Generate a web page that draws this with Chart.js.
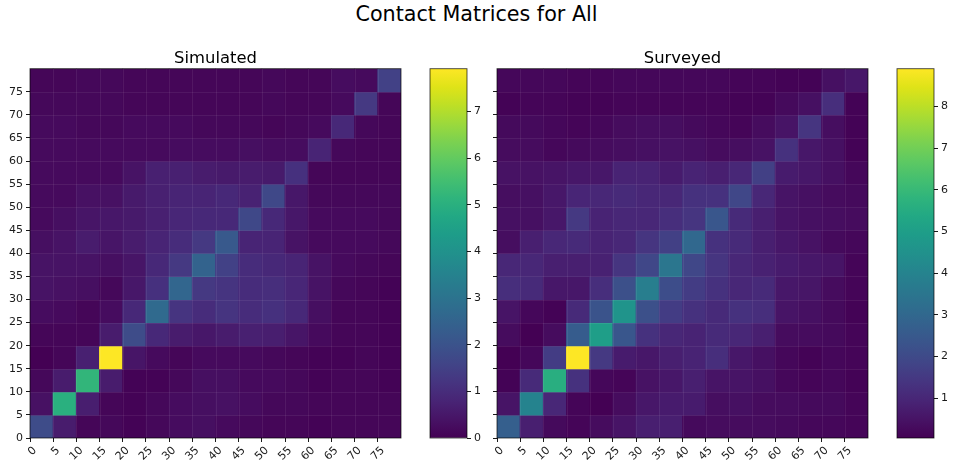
<!DOCTYPE html>
<html>
<head>
<meta charset="utf-8">
<title>Contact Matrices for All</title>
<script src="https://cdn.jsdelivr.net/npm/chart.js@4.4.1/dist/chart.umd.min.js"></script>
<style>
  body { margin: 0; background: #fff; width: 953px; height: 466px; position: relative; overflow: hidden; font-family: "DejaVu Sans", sans-serif; }
  #suptitle { position: absolute; left: 0; top: 2px; width: 953px; text-align: center; font-size: 20.7px; line-height: 24px; color: #000; }
  .panel { position: absolute; top: 0; height: 466px; }
</style>
</head>
<body>
<div id="suptitle">Contact Matrices for All</div>
<div class="panel" style="left:0;width:420px"><canvas id="simulatedMatrix"></canvas></div>
<div class="panel" style="left:420px;width:70px"><canvas id="simulatedBar"></canvas></div>
<div class="panel" style="left:470px;width:420px"><canvas id="surveyedMatrix"></canvas></div>
<div class="panel" style="left:887px;width:66px"><canvas id="surveyedBar"></canvas></div>
<script>
// age band lower bounds, 5 year bands
var ageBands = [0, 5, 10, 15, 20, 25, 30, 35, 40, 45, 50, 55, 60, 65, 70, 75];
var bandWidth = 5;
var tickLabels = ageBands.map(String);

// rows = age band of participant (bottom to top), columns = age band of contact
var simulated = [
  [1.8, 0.6, 0.1, 0.15, 0.05, 0.15, 0.25, 0.3, 0.2, 0.15, 0.1, 0.1, 0.05, 0.1, 0.1, 0.1],
  [0.35, 5.0, 0.65, 0.1, 0.05, 0.15, 0.25, 0.3, 0.35, 0.25, 0.15, 0.15, 0.1, 0.1, 0.1, 0.1],
  [0.15, 0.6, 5.2, 0.6, 0.05, 0.05, 0.15, 0.3, 0.3, 0.2, 0.2, 0.15, 0.05, 0.1, 0.1, 0.05],
  [0, 0.1, 0.7, 7.92, 0.45, 0.2, 0.1, 0.2, 0.2, 0.2, 0.15, 0.1, 0.05, 0.05, 0.1, 0.05],
  [0.1, 0.1, 0.1, 0.6, 1.8, 0.9, 0.6, 0.5, 0.6, 0.7, 0.65, 0.45, 0.2, 0.1, 0.1, 0.05],
  [0.25, 0.2, 0.1, 0.25, 0.9, 2.7, 1.2, 1.0, 1.2, 1.0, 1.1, 0.9, 0.3, 0.1, 0.1, 0.05],
  [0.4, 0.35, 0.3, 0.15, 0.5, 1.1, 2.6, 1.3, 1.2, 1.0, 1.05, 0.85, 0.4, 0.15, 0.1, 0.05],
  [0.4, 0.4, 0.4, 0.3, 0.45, 0.9, 1.3, 2.5, 1.5, 1.0, 0.9, 0.8, 0.4, 0.2, 0.15, 0.1],
  [0.3, 0.4, 0.6, 0.45, 0.6, 0.8, 1.0, 1.3, 2.2, 0.8, 0.8, 0.4, 0.2, 0.2, 0.2, 0.15],
  [0.2, 0.3, 0.45, 0.5, 0.55, 0.7, 0.85, 0.9, 0.9, 1.7, 0.9, 0.5, 0.2, 0.2, 0.2, 0.15],
  [0.2, 0.2, 0.35, 0.35, 0.55, 0.7, 0.8, 0.8, 0.9, 0.75, 1.7, 0.5, 0.15, 0.15, 0.15, 0.15],
  [0.2, 0.2, 0.2, 0.2, 0.4, 0.7, 0.7, 0.6, 0.55, 0.6, 0.55, 1.1, 0.1, 0.1, 0.1, 0.1],
  [0.2, 0.2, 0.2, 0.2, 0.2, 0.2, 0.25, 0.25, 0.25, 0.3, 0.25, 0.25, 0.8, 0.15, 0.1, 0.1],
  [0.2, 0.2, 0.15, 0.15, 0.2, 0.2, 0.2, 0.15, 0.15, 0.15, 0.1, 0.15, 0.2, 0.9, 0.15, 0.1],
  [0.15, 0.15, 0.15, 0.15, 0.1, 0.1, 0.1, 0.1, 0.1, 0.1, 0.15, 0.1, 0.1, 0.2, 1.3, 0.1],
  [0.1, 0.1, 0.15, 0.15, 0.1, 0.1, 0.1, 0.1, 0.1, 0.1, 0.15, 0.1, 0.1, 0.25, 0.2, 1.5]
];

var surveyed = [
  [2.7, 0.8, 0.25, 0.15, 0.3, 0.5, 0.8, 0.8, 0.25, 0.3, 0.3, 0.3, 0.25, 0.2, 0.2, 0.15],
  [0.5, 4.0, 1.0, 0.15, 0.04, 0.3, 0.6, 0.7, 0.7, 0.35, 0.4, 0.3, 0.3, 0.25, 0.25, 0.15],
  [0.1, 1.1, 5.6, 1.3, 0.2, 0.15, 0.45, 0.6, 0.8, 0.5, 0.5, 0.4, 0.2, 0.15, 0.2, 0.1],
  [0.05, 0.2, 1.6, 8.91, 1.5, 0.7, 0.6, 0.8, 0.9, 1.2, 0.6, 0.4, 0.2, 0.1, 0.2, 0.15],
  [0.3, 0.05, 0.3, 2.6, 5.0, 2.4, 1.3, 1.0, 0.9, 1.1, 1.0, 0.8, 0.3, 0.3, 0.25, 0.15],
  [0.5, 0.2, 0.1, 1.1, 2.3, 4.6, 2.2, 1.6, 1.3, 1.1, 1.3, 1.2, 0.5, 0.4, 0.25, 0.1],
  [1.2, 1.1, 0.6, 0.6, 1.2, 2.2, 3.8, 2.1, 1.6, 1.3, 1.0, 1.1, 0.6, 0.55, 0.3, 0.15],
  [1.0, 1.0, 0.8, 0.8, 0.85, 1.4, 1.9, 3.5, 1.9, 1.4, 1.0, 0.85, 0.7, 0.6, 0.5, 0.15],
  [0.35, 0.8, 1.0, 1.1, 0.9, 1.0, 1.4, 1.7, 3.0, 1.3, 1.1, 0.8, 0.6, 0.45, 0.25, 0.2],
  [0.4, 0.4, 0.6, 1.5, 0.9, 1.0, 1.0, 1.2, 1.4, 2.4, 1.1, 0.8, 0.5, 0.4, 0.35, 0.3],
  [0.35, 0.4, 0.6, 0.95, 1.0, 1.1, 1.0, 1.0, 1.3, 1.3, 1.9, 1.0, 0.5, 0.4, 0.3, 0.25],
  [0.45, 0.45, 0.5, 0.6, 0.6, 0.9, 0.9, 0.7, 0.9, 0.8, 1.0, 1.7, 0.7, 0.6, 0.4, 0.2],
  [0.3, 0.3, 0.2, 0.25, 0.3, 0.35, 0.4, 0.45, 0.4, 0.3, 0.35, 0.45, 1.3, 0.6, 0.4, 0.1],
  [0.25, 0.25, 0.2, 0.15, 0.2, 0.3, 0.35, 0.35, 0.25, 0.2, 0.15, 0.3, 0.5, 1.4, 0.35, 0.1],
  [0.1, 0.15, 0.15, 0.1, 0.1, 0.15, 0.15, 0.15, 0.15, 0.15, 0.1, 0.1, 0.25, 0.4, 1.2, 0.1],
  [0.2, 0.2, 0.2, 0.15, 0.15, 0.2, 0.2, 0.2, 0.2, 0.2, 0.15, 0.15, 0.1, 0.1, 0.4, 0.6]
];

var simulatedBarTicks = [0, 1, 2, 3, 4, 5, 6, 7];
var surveyedBarTicks = [1, 2, 3, 4, 5, 6, 7, 8];

var viridisStops = ['#440154', '#471365', '#482475', '#463480', '#414487', '#3b528b', '#355f8d',
  '#2f6c8e', '#2a788e', '#25848e', '#21918c', '#1e9c89', '#22a884', '#2fb47c', '#44bf70',
  '#5ec962', '#7ad151', '#9bd93c', '#bddf26', '#dfe318', '#fde725'];

var FONT = '"DejaVu Sans", sans-serif';
var INK = '#1a1a1a';

function hexRgb(h) {
  return [parseInt(h.substr(1, 2), 16), parseInt(h.substr(3, 2), 16), parseInt(h.substr(5, 2), 16)];
}

function viridis(t) {
  t = Math.max(0, Math.min(1, t));
  var p = t * (viridisStops.length - 1);
  var i = Math.min(Math.floor(p), viridisStops.length - 2);
  var f = p - i;
  var a = hexRgb(viridisStops[i]), b = hexRgb(viridisStops[i + 1]);
  var c = a.map(function (v, k) { return Math.round(v + (b[k] - v) * f); });
  return 'rgb(' + c.join(',') + ')';
}

function range(matrix) {
  var flat = [].concat.apply([], matrix);
  return [Math.min.apply(null, flat), Math.max.apply(null, flat)];
}

// faint cell edges along every band boundary
var cellEdgesPlugin = {
  id: 'cellEdges',
  afterDatasetsDraw: function (chart) {
    var a = chart.chartArea, ctx = chart.ctx;
    var xs = chart.scales.x, ys = chart.scales.y;
    ctx.save();
    ctx.strokeStyle = 'rgba(255,255,255,0.07)';
    ctx.lineWidth = 1;
    ctx.beginPath();
    ageBands.slice(1).forEach(function (b) {
      var px = Math.round(xs.getPixelForValue(b)) + 0.5;
      var py = Math.round(ys.getPixelForValue(b)) + 0.5;
      ctx.moveTo(px, a.top); ctx.lineTo(px, a.bottom);
      ctx.moveTo(a.left, py); ctx.lineTo(a.right, py);
    });
    ctx.stroke();
    ctx.restore();
  }
};

// outline around the plotting area, like axes spines
var framePlugin = {
  id: 'frame',
  afterDraw: function (chart) {
    var a = chart.chartArea, ctx = chart.ctx;
    ctx.save();
    ctx.strokeStyle = 'rgba(0,0,0,0.75)';
    ctx.lineWidth = 0.9;
    ctx.strokeRect(a.left, a.top, a.right - a.left, a.bottom - a.top);
    ctx.restore();
  }
};

function fixedTicks(values) {
  return function (scale) {
    scale.ticks = values.map(function (v) { return { value: v }; });
  };
}

function heatmap(canvasId, title, matrix, showYLabels, yWidth, rightPad) {
  var lims = range(matrix);
  var cells = [];
  matrix.forEach(function (row, r) {
    row.forEach(function (v, c) {
      cells.push({ x: ageBands[c] + bandWidth / 2, y: [ageBands[r], ageBands[r] + bandWidth], v: v });
    });
  });

  return new Chart(document.getElementById(canvasId), {
    type: 'bar',
    data: {
      datasets: [{
        data: cells,
        backgroundColor: function (ctx) {
          var raw = ctx.raw;
          if (!raw) return '#000';
          return viridis((raw.v - lims[0]) / (lims[1] - lims[0]));
        },
        borderWidth: 0,
        inflateAmount: 0.5,
        barPercentage: 1,
        categoryPercentage: 1
      }]
    },
    options: {
      responsive: true,
      maintainAspectRatio: false,
      animation: false,
      layout: { padding: { left: 0, right: rightPad, top: 0, bottom: 0 } },
      plugins: {
        legend: { display: false },
        tooltip: { enabled: false },
        title: {
          display: true,
          text: title,
          fullSize: false,
          color: '#000',
          font: { family: FONT, size: 16.4, weight: 'normal' },
          padding: { top: 49, bottom: 0 }
        }
      },
      scales: {
        x: {
          type: 'linear',
          min: 0,
          max: 80,
          offset: false,
          afterBuildTicks: fixedTicks(ageBands),
          afterFit: function (s) { s.height = 28; },
          grid: { drawOnChartArea: false, drawTicks: true, tickLength: 4, tickColor: INK, offset: false },
          border: { display: false },
          ticks: {
            autoSkip: false,
            minRotation: 45,
            maxRotation: 45,
            labelOffset: 5,
            padding: 2,
            color: INK,
            font: { family: FONT, size: 11 },
            callback: function (v, i) { return tickLabels[i]; }
          }
        },
        y: {
          type: 'linear',
          min: 0,
          max: 80,
          afterBuildTicks: fixedTicks(ageBands),
          afterFit: function (s) { s.width = yWidth; },
          grid: { drawOnChartArea: false, drawTicks: true, tickLength: 4, tickColor: INK },
          border: { display: false },
          ticks: {
            display: showYLabels,
            padding: 3,
            color: INK,
            font: { family: FONT, size: 11 },
            callback: function (v, i) { return tickLabels[i]; }
          }
        }
      }
    },
    plugins: [cellEdgesPlugin, framePlugin]
  });
}

function colorbar(canvasId, matrix, tickValues, axisWidth) {
  var lims = range(matrix);
  return new Chart(document.getElementById(canvasId), {
    type: 'bar',
    data: {
      labels: [''],
      datasets: [{
        data: [[lims[0], lims[1]]],
        backgroundColor: function (ctx) {
          var area = ctx.chart.chartArea;
          if (!area) return '#440154';
          var g = ctx.chart.ctx.createLinearGradient(0, area.bottom, 0, area.top);
          viridisStops.forEach(function (c, i) { g.addColorStop(i / (viridisStops.length - 1), c); });
          return g;
        },
        borderWidth: 0,
        barPercentage: 1,
        categoryPercentage: 1
      }]
    },
    options: {
      responsive: true,
      maintainAspectRatio: false,
      animation: false,
      layout: { padding: { left: 10, right: 0, top: 68.7, bottom: 28 } },
      plugins: { legend: { display: false }, tooltip: { enabled: false } },
      scales: {
        x: { display: false },
        y: {
          position: 'right',
          min: lims[0],
          max: lims[1],
          afterBuildTicks: fixedTicks(tickValues),
          afterFit: function (s) { s.width = axisWidth; },
          grid: { drawOnChartArea: false, drawTicks: true, tickLength: 4, tickColor: INK },
          border: { display: false },
          ticks: {
            padding: 3,
            color: INK,
            font: { family: FONT, size: 11 },
            callback: function (v) { return String(v); }
          }
        }
      }
    },
    plugins: [framePlugin]
  });
}

heatmap('simulatedMatrix', 'Simulated', simulated, true, 30, 19);
colorbar('simulatedBar', simulated, simulatedBarTicks, 23);
heatmap('surveyedMatrix', 'Surveyed', surveyed, false, 27, 22);
colorbar('surveyedBar', surveyed, surveyedBarTicks, 19);
</script>
</body>
</html>
